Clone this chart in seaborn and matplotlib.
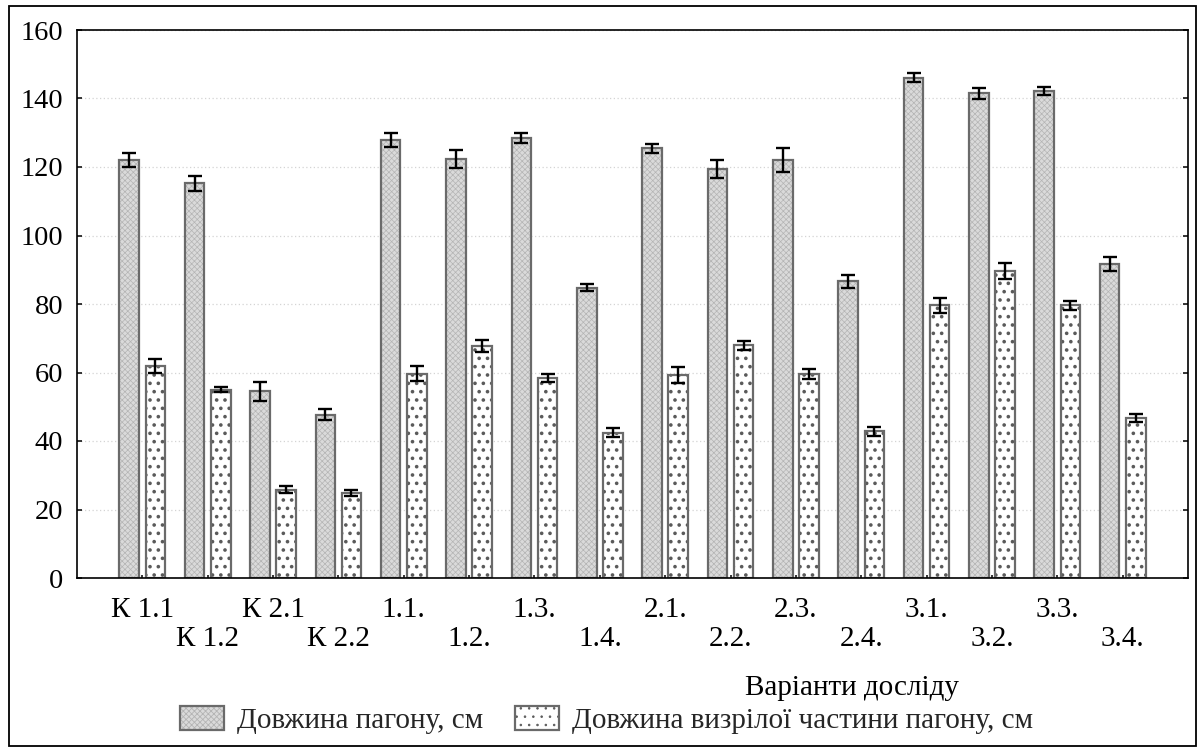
import matplotlib
matplotlib.use("Agg")
import matplotlib.pyplot as plt
import matplotlib.colors as mcolors
from matplotlib.patches import Patch, Rectangle
import pandas as pd
import seaborn as sns

# Experiment variants (x categories)
variants = ["К 1.1", "К 1.2", "К 2.1", "К 2.2", "1.1.", "1.2.", "1.3.", "1.4.",
            "2.1.", "2.2.", "2.3.", "2.4.", "3.1.", "3.2.", "3.3.", "3.4."]

# Shoot length, cm (mean and error)
shoot_len = [122.0, 115.3, 54.5, 47.7, 127.9, 122.3, 128.5, 84.8,
             125.5, 119.4, 122.0, 86.6, 146.0, 141.5, 142.2, 91.6]
shoot_err = [2.0, 2.2, 2.8, 1.7, 2.0, 2.7, 1.5, 1.1,
             1.3, 2.5, 3.5, 1.9, 1.3, 1.6, 1.1, 2.1]

# Length of the matured part of the shoot, cm (mean and error)
mature_len = [62.0, 55.0, 25.8, 24.7, 59.6, 67.7, 58.4, 42.4,
              59.3, 68.0, 59.5, 42.8, 79.6, 89.6, 79.6, 46.7]
mature_err = [2.0, 0.7, 1.0, 0.9, 2.2, 1.7, 1.2, 1.3,
              2.3, 1.3, 1.5, 1.2, 2.1, 2.4, 1.4, 1.1]

series = ["Довжина пагону, см", "Довжина визрілої частини пагону, см"]
yticks = [0, 20, 40, 60, 80, 100, 120, 140, 160]
xlabel = "Варіанти досліду"

df = pd.DataFrame({
    "variant": variants * 2,
    "value": shoot_len + mature_len,
    "series": [series[0]] * len(variants) + [series[1]] * len(variants),
})
errors = [shoot_err, mature_err]

sns.set_theme(style="white")
plt.rcParams["font.family"] = ["Liberation Serif", "DejaVu Serif"]
plt.rcParams["hatch.linewidth"] = 0.6

FS = 21
FS_Y = 20.5
EDGE = "#6a6a6a"

fig = plt.figure(figsize=(12, 7.49), dpi=100)
ax = fig.add_axes([77 / 1200, 1 - 578 / 749, (1188 - 77) / 1200, (578 - 30) / 749])

sns.barplot(data=df, x="variant", y="value", hue="series", order=variants,
            hue_order=series, width=0.8, gap=0.25, errorbar=None,
            legend=False, ax=ax)

styles = [
    dict(face="#dadada", hatch="xxxxxx", hcol="#b4b4b4", hlw=0.5),
    dict(face="white", hatch="..", hcol="#5a5a5a", hlw=1.4),
]


def style_patch(p, st):
    p.set_facecolor(st["face"])
    p.set_edgecolor(EDGE)
    p.set_linewidth(1.6)
    p.set_hatch(st["hatch"])
    p._hatch_color = mcolors.to_rgba(st["hcol"])
    if hasattr(p, "set_hatch_linewidth"):
        p.set_hatch_linewidth(st["hlw"])


for cont, st, err in zip(ax.containers, styles, errors):
    xs, ys = [], []
    for bar in cont:
        style_patch(bar, st)
        xs.append(bar.get_x() + bar.get_width() / 2)
        ys.append(bar.get_height())
    ax.errorbar(xs, ys, yerr=err, fmt="none", ecolor="black",
                elinewidth=1.7, capsize=5.2, capthick=1.7, zorder=5)

ax.set_xlim(-1, len(variants))
ax.set_ylim(0, 160)
ax.set_yticks(yticks)
ax.set_yticklabels([str(v) for v in yticks], fontsize=FS_Y)
ax.yaxis.grid(True, linestyle=(0, (1, 2)), color="#d4d4d4", linewidth=0.9)
ax.set_axisbelow(True)

ax.set_xticks(range(len(variants)))
ax.set_xticklabels([v if i % 2 == 0 else "\n" + v for i, v in enumerate(variants)],
                   fontsize=FS, linespacing=1.15)

for s in ax.spines.values():
    s.set_visible(True)
    s.set_color("black")
    s.set_linewidth(1.2)

ax.tick_params(axis="y", which="both", direction="in", length=3.5, width=1.1,
               left=True, right=True, pad=10, colors="black")
ax.tick_params(axis="x", direction="in", length=2.5, width=1.1,
               bottom=True, top=False, pad=14, colors="black")

ax.set_xlabel(xlabel, fontsize=FS, color="black")
ax.xaxis.set_label_coords((852 - 77) / 1111, (578 - 688) / 548)
ax.xaxis.label.set_va("center")
ax.set_ylabel("")

handles = [Patch(), Patch()]
for h, st in zip(handles, styles):
    style_patch(h, st)
leg = fig.legend(handles, series, loc="center left", ncol=2, frameon=False,
                 bbox_to_anchor=(180 / 1200, 1 - 720 / 749), fontsize=FS,
                 handlelength=1.5, handleheight=0.9, handletextpad=0.45,
                 columnspacing=1.1, borderaxespad=0, borderpad=0)

fig.patches.append(Rectangle((9 / 1200, 3 / 749), 1187 / 1200, 740 / 749,
                             transform=fig.transFigure, fill=False,
                             edgecolor="black", linewidth=1.3))

fig.savefig("out.png", dpi=100, facecolor="white")
